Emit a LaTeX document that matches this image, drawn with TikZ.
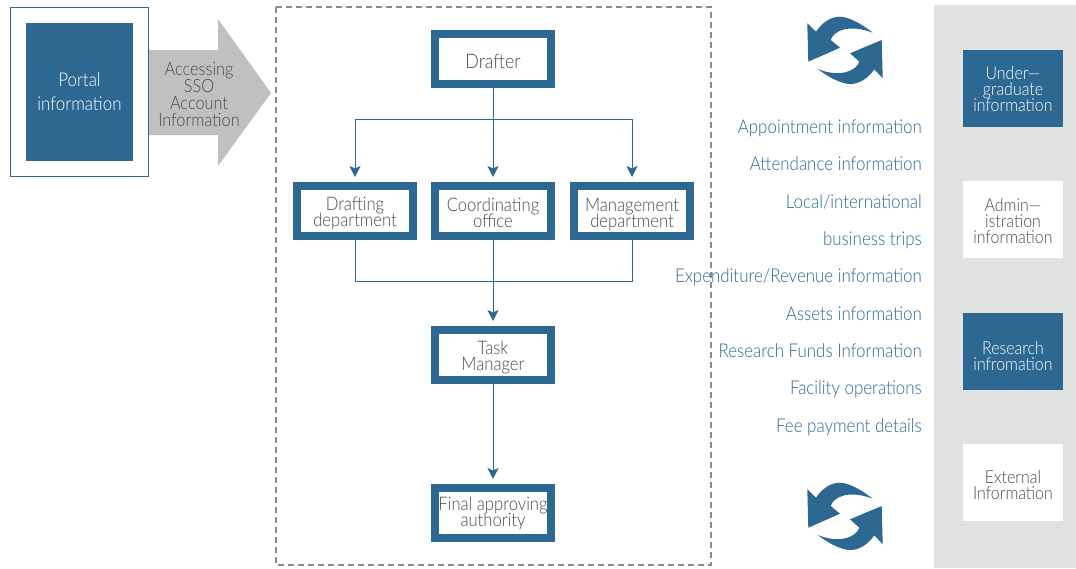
\documentclass[tikz,border=0pt]{standalone}
\usepackage{fontspec}
\setmainfont{Lato Light}[FakeStretch=0.89]
\usetikzlibrary{arrows.meta}
\lineskiplimit=-30pt
\definecolor{bluemain}{HTML}{2C6892}
\definecolor{panelgray}{HTML}{E0E2E2}
\definecolor{arrowgray}{HTML}{C0C0C0}
\definecolor{textgray}{HTML}{4A4A4A}
\definecolor{dashgray}{HTML}{8C8C8C}
\tikzset{
  x=1pt,y=-1pt,
  framebox/.style={draw=bluemain,line width=8pt,fill=white,minimum width=116pt,minimum height=50pt,inner sep=0pt},
  solidbox/.style={fill=bluemain,minimum width=100pt,minimum height=77pt,inner sep=0pt},
  whitebox/.style={solidbox,fill=white},
  boxtext/.style={anchor=base,inner sep=0pt,align=center,text=textgray,font=\fontsize{18.7}{16}\selectfont},
  paneltext/.style={boxtext,font=\fontsize{17.9}{16}\selectfont},
  listitem/.style={anchor=base east,inner sep=0pt,text=bluemain,font=\fontsize{19}{20}\selectfont},
  link/.style={draw=bluemain,line width=1pt},
  linkarrow/.style={link,-{Stealth[length=11pt,width=11pt,inset=2.5pt]},shorten >=5pt},
  swirl/.style={fill=bluemain,draw=none}
}
\newcommand{\swapicon}[1]{%
  \begin{scope}[yshift=#1]
  \path[swirl] (872.7,32.7) .. controls (858,21) and (846,16.7) .. (840,16.7) .. controls (830,16.7) and (822,23) .. (816,31.7)
    -- (807.3,23.3) -- (808.3,61.7) -- (840,47.7) -- (830.7,40) .. controls (834,30) and (850,24) .. (872.7,32.7) -- cycle;
  \path[swirl] (817.7,69) .. controls (832,80) and (844,84) .. (850,84) .. controls (860,84) and (868,78) .. (874.3,69.3)
    -- (882.7,78.3) -- (881.7,40) -- (850,53.3) -- (859.3,61.7) .. controls (856,71) and (840,78) .. (817.7,69) -- cycle;
  \end{scope}}
\begin{document}
\begin{tikzpicture}
\useasboundingbox (0,0) rectangle (1076,568);
\fill[white] (0,0) rectangle (1076,568);
% right panel
\fill[panelgray] (934,5) rectangle (1076,568);
% dashed frame
\draw[dashgray,line width=1.2pt,dash pattern=on 6pt off 4pt] (276,7) rectangle (711,565);
% portal
\node[draw=bluemain,line width=1.2pt,fill=white,minimum width=138pt,minimum height=169pt,inner sep=0pt] (portalframe) at (79.5,92) {};
\node[solidbox,minimum width=107pt,minimum height=138pt] (portal) at (79.5,92) {};
\node[boxtext,text=white,font=\fontsize{19}{24}\selectfont] (portalt) at (79.5,110) {Portal\\information};
% block arrow
\path[fill=arrowgray] (149,50) -- (218,50) -- (218,19) -- (271,93) -- (218,166) -- (218,135) -- (149,135) -- cycle;
\node[boxtext,font=\fontsize{18.3}{17}\selectfont] (sso) at (199,126) {Accessing\\SSO\\Account\\Information};
% flow boxes
\node[framebox] (drafter) at (493,59) {};
\node[boxtext,font=\fontsize{20}{20}\selectfont] (draftert) at (493,68) {Drafter};
\node[framebox] (drafting) at (355,211) {};
\node[boxtext] (draftingt) at (355,226) {Drafting\\department};
\node[framebox] (coord) at (493,211) {};
\node[boxtext] (coordt) at (493,227) {Coordinating\\office};
\node[framebox] (mgmt) at (632,211) {};
\node[boxtext] (mgmtt) at (632,227) {Management\\department};
\node[framebox] (task) at (493,355) {};
\node[boxtext] (taskt) at (493,370) {Task\\Manager};
\node[framebox] (final) at (493,513) {};
\node[boxtext] (finalt) at (493,526) {Final approving\\authority};
% connectors
\coordinate (split) at (493,119);
\coordinate (merge) at (493,281);
\draw[link] (drafter.south) -- (split);
\draw[linkarrow] (split) -- (coord.north);
\draw[linkarrow] (split) -| (drafting.north);
\draw[linkarrow] (split) -| (mgmt.north);
\draw[link] (drafting.south) |- (merge);
\draw[link] (mgmt.south) |- (merge);
\draw[linkarrow] (coord.south) -- (task.north);
\draw[linkarrow] (task.south) -- (final.north);
% list
\node[listitem] (l1) at (922,133) {Appointment information};
\node[listitem] (l2) at (922,170) {Attendance information};
\node[listitem] (l3) at (922,208) {Local/international};
\node[listitem] (l4) at (922,245) {business trips};
\node[listitem] (l5) at (922,282) {Expenditure/Revenue information};
\node[listitem] (l6) at (922,320) {Assets information};
\node[listitem] (l7) at (922,357) {Research Funds Information};
\node[listitem] (l8) at (922,394) {Facility operations};
\node[listitem] (l9) at (922,432) {Fee payment details};
% icons
\swapicon{0pt}
\swapicon{-466pt}
% panel boxes
\node[solidbox] (ug) at (1013,88.5) {};
\node[paneltext,text=white] (ugt) at (1013,111) {Under---\\graduate\\information};
\node[whitebox] (admin) at (1013,219.5) {};
\node[paneltext] (admint) at (1013,243) {Admin---\\istration\\information};
\node[solidbox] (research) at (1013,351.5) {};
\node[paneltext,text=white] (researcht) at (1013,370) {Research\\infromation};
\node[whitebox] (ext) at (1013,482.5) {};
\node[paneltext] (extt) at (1013,499) {External\\Information};
\end{tikzpicture}
\end{document}
